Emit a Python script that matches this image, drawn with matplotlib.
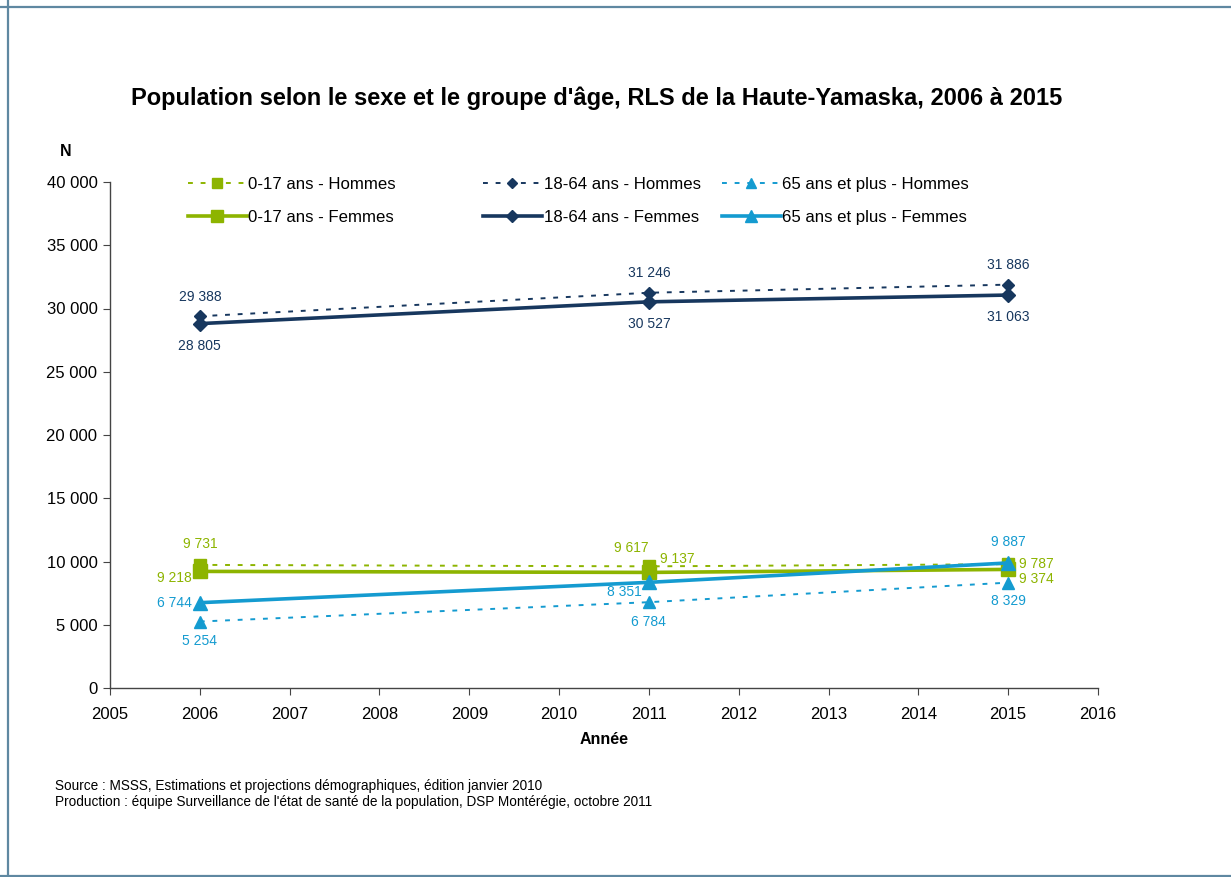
import matplotlib
matplotlib.use("Agg")
import matplotlib.pyplot as plt
from matplotlib.lines import Line2D
from matplotlib.ticker import FuncFormatter, MultipleLocator

plt.rcParams['font.family'] = ['Liberation Sans', 'DejaVu Sans']

years = [2006, 2011, 2015]
h_0_17 = [9731, 9617, 9787]
f_0_17 = [9218, 9137, 9374]
h_18_64 = [29388, 31246, 31886]
f_18_64 = [28805, 30527, 31063]
h_65 = [5254, 6784, 8329]
f_65 = [6744, 8351, 9887]

labels = ["0-17 ans - Hommes", "0-17 ans - Femmes",
          "18-64 ans - Hommes", "18-64 ans - Femmes",
          "65 ans et plus - Hommes", "65 ans et plus - Femmes"]

GREEN = '#8DB400'
NAVY = '#17375E'
BLUE = '#149BD0'

W, H = 1231, 877
fig = plt.figure(figsize=(W/100, H/100), dpi=100)
ax = fig.add_axes([110/W, 1-688/H, (1098-110)/W, (688-182)/H])

def fx(px):
    return px / W
def fy(py):
    return 1 - py / H

dash = (0, (2.5, 4))
lines = []
lines.append(ax.plot(years, h_0_17, color=GREEN, lw=1.4, ls=dash, marker='s', ms=8, label=labels[0])[0])
lines.append(ax.plot(years, f_0_17, color=GREEN, lw=2.6, marker='s', ms=10, label=labels[1])[0])
lines.append(ax.plot(years, h_18_64, color=NAVY, lw=1.4, ls=dash, marker='D', ms=6, label=labels[2])[0])
lines.append(ax.plot(years, f_18_64, color=NAVY, lw=2.6, marker='D', ms=7, label=labels[3])[0])
lines.append(ax.plot(years, h_65, color=BLUE, lw=1.4, ls=dash, marker='^', ms=8, label=labels[4])[0])
lines.append(ax.plot(years, f_65, color=BLUE, lw=2.6, marker='^', ms=10, label=labels[5])[0])

ax.set_xlim(2005, 2016)
ax.set_ylim(0, 40000)
ax.xaxis.set_major_locator(MultipleLocator(1))
ax.yaxis.set_major_locator(MultipleLocator(5000))
ax.yaxis.set_major_formatter(FuncFormatter(lambda v, p: f"{int(v):,}".replace(",", " ")))
for s in ['top', 'right']:
    ax.spines[s].set_visible(False)
for s in ['left', 'bottom']:
    ax.spines[s].set_color('#444444')
    ax.spines[s].set_linewidth(1.0)
ax.tick_params(axis='both', direction='out', length=5, color='#444444', labelsize=12.0, labelcolor='black')
ax.tick_params(axis='x', pad=9)
ax.tick_params(axis='y', pad=4)

def fmt(v):
    return f"{v:,}".replace(",", " ")

def lab(x, y, dx, dy, color, ha='center'):
    ax.annotate(fmt(y), (x, y), xytext=(dx, dy), textcoords='offset points',
                ha=ha, va='center', color=color, fontsize=10)

# 2006
lab(2006, h_0_17[0], 0, 15, GREEN)
lab(2006, f_0_17[0], -18, -5, GREEN)
lab(2006, f_65[0], -18, 0, BLUE)
lab(2006, h_65[0], 0, -14, BLUE)
lab(2006, h_18_64[0], 0, 14, NAVY)
lab(2006, f_18_64[0], 0, -16, NAVY)
# 2011
lab(2011, h_0_17[1], -13, 13, GREEN)
lab(2011, f_0_17[1], 8, 10, GREEN, ha='left')
lab(2011, f_65[1], -18, -7, BLUE)
lab(2011, h_65[1], 0, -14, BLUE)
lab(2011, h_18_64[1], 0, 14, NAVY)
lab(2011, f_18_64[1], 0, -16, NAVY)
# 2015
lab(2015, f_65[2], 0, 15, BLUE)
lab(2015, h_0_17[2], 8, 0, GREEN, ha='left')
lab(2015, f_0_17[2], 8, -7, GREEN, ha='left')
lab(2015, h_65[2], 0, -13, BLUE)
lab(2015, h_18_64[2], 0, 14, NAVY)
lab(2015, f_18_64[2], 0, -16, NAVY)

# legends (three columns)
col_x = [188, 483, 722]
for i, cx in enumerate(col_x):
    leg = fig.legend(handles=lines[2*i:2*i+2], loc='upper left',
                     bbox_to_anchor=(fx(cx), fy(177)), frameon=False,
                     fontsize=12.1, handlelength=3.5, handletextpad=0.1,
                     labelspacing=1.05, borderpad=0, borderaxespad=0,
                     markerscale=0.85)

fig.text(fx(597), fy(98), "Population selon le sexe et le groupe d'âge, RLS de la Haute-Yamaska, 2006 à 2015",
         ha='center', va='center', fontsize=17.0, fontweight='bold')
fig.text(fx(66), fy(152), "N", ha='center', va='center', fontsize=11.5, fontweight='bold')
fig.text(fx(604), fy(740), "Année", ha='center', va='center', fontsize=11.5, fontweight='bold')
fig.text(fx(55), fy(786), "Source : MSSS, Estimations et projections démographiques, édition janvier 2010",
         ha='left', va='center', fontsize=9.8)
fig.text(fx(55), fy(802), "Production : équipe Surveillance de l'état de santé de la population, DSP Montérégie, octobre 2011",
         ha='left', va='center', fontsize=9.8)

# frame lines
BORDER = '#5F88A1'
fig.add_artist(Line2D([0, 1], [fy(6.5), fy(6.5)], color=BORDER, lw=1.6, transform=fig.transFigure))
fig.add_artist(Line2D([fx(7.5), fx(7.5)], [0, 1], color=BORDER, lw=1.6, transform=fig.transFigure))
fig.add_artist(Line2D([0, 1], [fy(876), fy(876)], color=BORDER, lw=1.6, transform=fig.transFigure))

fig.savefig("out.png", dpi=100)
